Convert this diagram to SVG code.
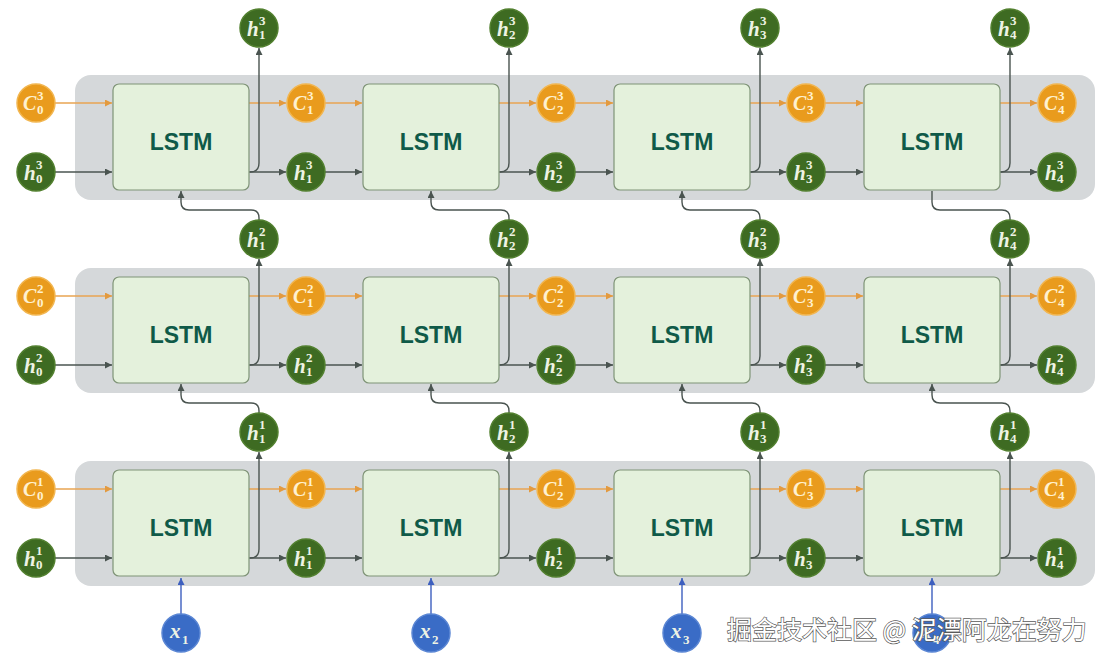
<svg xmlns="http://www.w3.org/2000/svg" width="1108" height="660" viewBox="0 0 1108 660">
<style>
.band{fill:#d5d8da}
.box{fill:#e4f1dc;stroke:#7f9477;stroke-width:1.2}
.lbl{font-family:"Liberation Sans",Arial,sans-serif;font-weight:bold;font-size:23px;fill:#0f5a48;text-anchor:middle}
.g{fill:#3e6b22;stroke:#52802f;stroke-width:1.5}
.o{fill:#e99b1d;stroke:#f2b650;stroke-width:1.5}
.b{fill:#3a6cc6;stroke:#5a86d4;stroke-width:1.5}
.m{font-family:"Liberation Serif","Times New Roman",serif;font-style:italic;font-weight:bold;font-size:21px;fill:#eef3e4}
.s{font-family:"Liberation Serif","Times New Roman",serif;font-weight:bold;font-size:13px;fill:#eef3e4}
.mo{font-family:"Liberation Serif","Times New Roman",serif;font-style:italic;font-weight:bold;font-size:20px;fill:#fff1cf}
.so{font-family:"Liberation Serif","Times New Roman",serif;font-weight:bold;font-size:13px;fill:#fff1cf}
.lh{fill:none;stroke:#4a5450;stroke-width:1.4}
.lc{fill:none;stroke:#e8a452;stroke-width:1.6}
.lb{fill:none;stroke:#3d5fbf;stroke-width:1.4}
.wm{font-family:"Noto Sans CJK SC","Noto Sans",sans-serif;font-size:25px;fill:#ffffff;stroke:#5a5a5a;stroke-width:1.4;paint-order:stroke}
</style>
<defs>
<marker id="ah" viewBox="0 0 8 8" refX="8" refY="4" markerWidth="7" markerHeight="7" markerUnits="userSpaceOnUse" orient="auto"><path d="M0,0 L8,4 L0,8 z" fill="#4a5450"/></marker>
<marker id="ac" viewBox="0 0 8 8" refX="8" refY="4" markerWidth="7" markerHeight="7" markerUnits="userSpaceOnUse" orient="auto"><path d="M0,0 L8,4 L0,8 z" fill="#e39a3f"/></marker>
<marker id="ab" viewBox="0 0 8 8" refX="8" refY="4" markerWidth="7" markerHeight="7" markerUnits="userSpaceOnUse" orient="auto"><path d="M0,0 L8,4 L0,8 z" fill="#3d5fbf"/></marker>
</defs>

<g id="bands">
<rect class="band" x="75" y="75" width="1020" height="125" rx="16"/>
<rect class="band" x="75" y="268" width="1020" height="125" rx="16"/>
<rect class="band" x="75" y="461" width="1020" height="125" rx="16"/>
</g>

<g id="connectors">
<path class="lc" d="M55,103 H112" marker-end="url(#ac)"/>
<path class="lh" d="M55,172 H112" marker-end="url(#ah)"/>
<path class="lc" d="M249,103 H286" marker-end="url(#ac)"/>
<path class="lh" d="M249,172 H286" marker-end="url(#ah)"/>
<path class="lh" d="M250,172 Q259,172 259,163 V48" marker-end="url(#ah)"/>
<path class="lc" d="M325,103 H362" marker-end="url(#ac)"/>
<path class="lh" d="M325,172 H362" marker-end="url(#ah)"/>
<path class="lc" d="M499,103 H536" marker-end="url(#ac)"/>
<path class="lh" d="M499,172 H536" marker-end="url(#ah)"/>
<path class="lh" d="M500,172 Q509,172 509,163 V48" marker-end="url(#ah)"/>
<path class="lc" d="M575,103 H613" marker-end="url(#ac)"/>
<path class="lh" d="M575,172 H613" marker-end="url(#ah)"/>
<path class="lc" d="M750,103 H786" marker-end="url(#ac)"/>
<path class="lh" d="M750,172 H786" marker-end="url(#ah)"/>
<path class="lh" d="M751,172 Q760,172 760,163 V48" marker-end="url(#ah)"/>
<path class="lc" d="M825,103 H863" marker-end="url(#ac)"/>
<path class="lh" d="M825,172 H863" marker-end="url(#ah)"/>
<path class="lc" d="M1000,103 H1037" marker-end="url(#ac)"/>
<path class="lh" d="M1000,172 H1037" marker-end="url(#ah)"/>
<path class="lh" d="M1001,172 Q1010,172 1010,163 V48" marker-end="url(#ah)"/>

<path class="lc" d="M55,296 H112" marker-end="url(#ac)"/>
<path class="lh" d="M55,365 H112" marker-end="url(#ah)"/>
<path class="lc" d="M249,296 H286" marker-end="url(#ac)"/>
<path class="lh" d="M249,365 H286" marker-end="url(#ah)"/>
<path class="lh" d="M250,365 Q259,365 259,356 V259" marker-end="url(#ah)"/>
<path class="lc" d="M325,296 H362" marker-end="url(#ac)"/>
<path class="lh" d="M325,365 H362" marker-end="url(#ah)"/>
<path class="lc" d="M499,296 H536" marker-end="url(#ac)"/>
<path class="lh" d="M499,365 H536" marker-end="url(#ah)"/>
<path class="lh" d="M500,365 Q509,365 509,356 V259" marker-end="url(#ah)"/>
<path class="lc" d="M575,296 H613" marker-end="url(#ac)"/>
<path class="lh" d="M575,365 H613" marker-end="url(#ah)"/>
<path class="lc" d="M750,296 H786" marker-end="url(#ac)"/>
<path class="lh" d="M750,365 H786" marker-end="url(#ah)"/>
<path class="lh" d="M751,365 Q760,365 760,356 V259" marker-end="url(#ah)"/>
<path class="lc" d="M825,296 H863" marker-end="url(#ac)"/>
<path class="lh" d="M825,365 H863" marker-end="url(#ah)"/>
<path class="lc" d="M1000,296 H1037" marker-end="url(#ac)"/>
<path class="lh" d="M1000,365 H1037" marker-end="url(#ah)"/>
<path class="lh" d="M1001,365 Q1010,365 1010,356 V259" marker-end="url(#ah)"/>

<path class="lc" d="M55,489 H112" marker-end="url(#ac)"/>
<path class="lh" d="M55,558 H112" marker-end="url(#ah)"/>
<path class="lc" d="M249,489 H286" marker-end="url(#ac)"/>
<path class="lh" d="M249,558 H286" marker-end="url(#ah)"/>
<path class="lh" d="M250,558 Q259,558 259,549 V452" marker-end="url(#ah)"/>
<path class="lc" d="M325,489 H362" marker-end="url(#ac)"/>
<path class="lh" d="M325,558 H362" marker-end="url(#ah)"/>
<path class="lc" d="M499,489 H536" marker-end="url(#ac)"/>
<path class="lh" d="M499,558 H536" marker-end="url(#ah)"/>
<path class="lh" d="M500,558 Q509,558 509,549 V452" marker-end="url(#ah)"/>
<path class="lc" d="M575,489 H613" marker-end="url(#ac)"/>
<path class="lh" d="M575,558 H613" marker-end="url(#ah)"/>
<path class="lc" d="M750,489 H786" marker-end="url(#ac)"/>
<path class="lh" d="M750,558 H786" marker-end="url(#ah)"/>
<path class="lh" d="M751,558 Q760,558 760,549 V452" marker-end="url(#ah)"/>
<path class="lc" d="M825,489 H863" marker-end="url(#ac)"/>
<path class="lh" d="M825,558 H863" marker-end="url(#ah)"/>
<path class="lc" d="M1000,489 H1037" marker-end="url(#ac)"/>
<path class="lh" d="M1000,558 H1037" marker-end="url(#ah)"/>
<path class="lh" d="M1001,558 Q1010,558 1010,549 V452" marker-end="url(#ah)"/>

<path class="lh" d="M259,220 V218 Q259,210 251,210 H189 Q181,210 181,202 V191" marker-end="url(#ah)"/>
<path class="lh" d="M509,220 V218 Q509,210 501,210 H439 Q431,210 431,202 V191" marker-end="url(#ah)"/>
<path class="lh" d="M760,220 V218 Q760,210 752,210 H690 Q682,210 682,202 V191" marker-end="url(#ah)"/>
<path class="lh" d="M932,191 V202 Q932,210 940,210 H1002 Q1010,210 1010,218 V220"/>
<path class="lh" d="M259,413 V411 Q259,403 251,403 H189 Q181,403 181,395 V384" marker-end="url(#ah)"/>
<path class="lh" d="M509,413 V411 Q509,403 501,403 H439 Q431,403 431,395 V384" marker-end="url(#ah)"/>
<path class="lh" d="M760,413 V411 Q760,403 752,403 H690 Q682,403 682,395 V384" marker-end="url(#ah)"/>
<path class="lh" d="M1010,413 V411 Q1010,403 1002,403 H940 Q932,403 932,395 V384" marker-end="url(#ah)"/>
<path class="lb" d="M181,614 V578" marker-end="url(#ab)"/>
<path class="lb" d="M431,614 V578" marker-end="url(#ab)"/>
<path class="lb" d="M682,614 V578" marker-end="url(#ab)"/>
<path class="lb" d="M932,614 V578" marker-end="url(#ab)"/>
</g>

<g id="lstm-3-1"><rect class="box" x="113" y="84" width="136" height="106" rx="6"/><text class="lbl" x="181" y="150">LSTM</text></g>
<g id="lstm-3-2"><rect class="box" x="363" y="84" width="136" height="106" rx="6"/><text class="lbl" x="431" y="150">LSTM</text></g>
<g id="lstm-3-3"><rect class="box" x="614" y="84" width="136" height="106" rx="6"/><text class="lbl" x="682" y="150">LSTM</text></g>
<g id="lstm-3-4"><rect class="box" x="864" y="84" width="136" height="106" rx="6"/><text class="lbl" x="932" y="150">LSTM</text></g>
<g id="lstm-2-1"><rect class="box" x="113" y="277" width="136" height="106" rx="6"/><text class="lbl" x="181" y="343">LSTM</text></g>
<g id="lstm-2-2"><rect class="box" x="363" y="277" width="136" height="106" rx="6"/><text class="lbl" x="431" y="343">LSTM</text></g>
<g id="lstm-2-3"><rect class="box" x="614" y="277" width="136" height="106" rx="6"/><text class="lbl" x="682" y="343">LSTM</text></g>
<g id="lstm-2-4"><rect class="box" x="864" y="277" width="136" height="106" rx="6"/><text class="lbl" x="932" y="343">LSTM</text></g>
<g id="lstm-1-1"><rect class="box" x="113" y="470" width="136" height="106" rx="6"/><text class="lbl" x="181" y="536">LSTM</text></g>
<g id="lstm-1-2"><rect class="box" x="363" y="470" width="136" height="106" rx="6"/><text class="lbl" x="431" y="536">LSTM</text></g>
<g id="lstm-1-3"><rect class="box" x="614" y="470" width="136" height="106" rx="6"/><text class="lbl" x="682" y="536">LSTM</text></g>
<g id="lstm-1-4"><rect class="box" x="864" y="470" width="136" height="106" rx="6"/><text class="lbl" x="932" y="536">LSTM</text></g>

<g id="c03"><circle class="o" cx="36" cy="103" r="19"/><text class="mo" x="23" y="110">C</text><text class="so" x="37" y="100">3</text><text class="so" x="37" y="114">0</text></g>
<g id="h03"><circle class="g" cx="36" cy="172" r="19"/><text class="m" x="24" y="180">h</text><text class="s" x="36" y="169">3</text><text class="s" x="36" y="183">0</text></g>
<g id="c13"><circle class="o" cx="306" cy="103" r="19"/><text class="mo" x="293" y="110">C</text><text class="so" x="307" y="100">3</text><text class="so" x="307" y="114">1</text></g>
<g id="h13"><circle class="g" cx="306" cy="172" r="19"/><text class="m" x="294" y="180">h</text><text class="s" x="306" y="169">3</text><text class="s" x="306" y="183">1</text></g>
<g id="c23"><circle class="o" cx="556" cy="103" r="19"/><text class="mo" x="543" y="110">C</text><text class="so" x="557" y="100">3</text><text class="so" x="557" y="114">2</text></g>
<g id="h23"><circle class="g" cx="556" cy="172" r="19"/><text class="m" x="544" y="180">h</text><text class="s" x="556" y="169">3</text><text class="s" x="556" y="183">2</text></g>
<g id="c33"><circle class="o" cx="806" cy="103" r="19"/><text class="mo" x="793" y="110">C</text><text class="so" x="807" y="100">3</text><text class="so" x="807" y="114">3</text></g>
<g id="h33"><circle class="g" cx="806" cy="172" r="19"/><text class="m" x="794" y="180">h</text><text class="s" x="806" y="169">3</text><text class="s" x="806" y="183">3</text></g>
<g id="c43"><circle class="o" cx="1057" cy="103" r="19"/><text class="mo" x="1044" y="110">C</text><text class="so" x="1058" y="100">3</text><text class="so" x="1058" y="114">4</text></g>
<g id="h43"><circle class="g" cx="1057" cy="172" r="19"/><text class="m" x="1045" y="180">h</text><text class="s" x="1057" y="169">3</text><text class="s" x="1057" y="183">4</text></g>
<g id="h13up"><circle class="g" cx="259" cy="28" r="19"/><text class="m" x="247" y="36">h</text><text class="s" x="259" y="25">3</text><text class="s" x="259" y="39">1</text></g>
<g id="h23up"><circle class="g" cx="509" cy="28" r="19"/><text class="m" x="497" y="36">h</text><text class="s" x="509" y="25">3</text><text class="s" x="509" y="39">2</text></g>
<g id="h33up"><circle class="g" cx="760" cy="28" r="19"/><text class="m" x="748" y="36">h</text><text class="s" x="760" y="25">3</text><text class="s" x="760" y="39">3</text></g>
<g id="h43up"><circle class="g" cx="1010" cy="28" r="19"/><text class="m" x="998" y="36">h</text><text class="s" x="1010" y="25">3</text><text class="s" x="1010" y="39">4</text></g>

<g id="c02"><circle class="o" cx="36" cy="296" r="19"/><text class="mo" x="23" y="303">C</text><text class="so" x="37" y="293">2</text><text class="so" x="37" y="307">0</text></g>
<g id="h02"><circle class="g" cx="36" cy="365" r="19"/><text class="m" x="24" y="373">h</text><text class="s" x="36" y="362">2</text><text class="s" x="36" y="376">0</text></g>
<g id="c12"><circle class="o" cx="306" cy="296" r="19"/><text class="mo" x="293" y="303">C</text><text class="so" x="307" y="293">2</text><text class="so" x="307" y="307">1</text></g>
<g id="h12"><circle class="g" cx="306" cy="365" r="19"/><text class="m" x="294" y="373">h</text><text class="s" x="306" y="362">2</text><text class="s" x="306" y="376">1</text></g>
<g id="c22"><circle class="o" cx="556" cy="296" r="19"/><text class="mo" x="543" y="303">C</text><text class="so" x="557" y="293">2</text><text class="so" x="557" y="307">2</text></g>
<g id="h22"><circle class="g" cx="556" cy="365" r="19"/><text class="m" x="544" y="373">h</text><text class="s" x="556" y="362">2</text><text class="s" x="556" y="376">2</text></g>
<g id="c32"><circle class="o" cx="806" cy="296" r="19"/><text class="mo" x="793" y="303">C</text><text class="so" x="807" y="293">2</text><text class="so" x="807" y="307">3</text></g>
<g id="h32"><circle class="g" cx="806" cy="365" r="19"/><text class="m" x="794" y="373">h</text><text class="s" x="806" y="362">2</text><text class="s" x="806" y="376">3</text></g>
<g id="c42"><circle class="o" cx="1057" cy="296" r="19"/><text class="mo" x="1044" y="303">C</text><text class="so" x="1058" y="293">2</text><text class="so" x="1058" y="307">4</text></g>
<g id="h42"><circle class="g" cx="1057" cy="365" r="19"/><text class="m" x="1045" y="373">h</text><text class="s" x="1057" y="362">2</text><text class="s" x="1057" y="376">4</text></g>
<g id="h12up"><circle class="g" cx="259" cy="239" r="19"/><text class="m" x="247" y="247">h</text><text class="s" x="259" y="236">2</text><text class="s" x="259" y="250">1</text></g>
<g id="h22up"><circle class="g" cx="509" cy="239" r="19"/><text class="m" x="497" y="247">h</text><text class="s" x="509" y="236">2</text><text class="s" x="509" y="250">2</text></g>
<g id="h32up"><circle class="g" cx="760" cy="239" r="19"/><text class="m" x="748" y="247">h</text><text class="s" x="760" y="236">2</text><text class="s" x="760" y="250">3</text></g>
<g id="h42up"><circle class="g" cx="1010" cy="239" r="19"/><text class="m" x="998" y="247">h</text><text class="s" x="1010" y="236">2</text><text class="s" x="1010" y="250">4</text></g>

<g id="c01"><circle class="o" cx="36" cy="489" r="19"/><text class="mo" x="23" y="496">C</text><text class="so" x="37" y="486">1</text><text class="so" x="37" y="500">0</text></g>
<g id="h01"><circle class="g" cx="36" cy="558" r="19"/><text class="m" x="24" y="566">h</text><text class="s" x="36" y="555">1</text><text class="s" x="36" y="569">0</text></g>
<g id="c11"><circle class="o" cx="306" cy="489" r="19"/><text class="mo" x="293" y="496">C</text><text class="so" x="307" y="486">1</text><text class="so" x="307" y="500">1</text></g>
<g id="h11"><circle class="g" cx="306" cy="558" r="19"/><text class="m" x="294" y="566">h</text><text class="s" x="306" y="555">1</text><text class="s" x="306" y="569">1</text></g>
<g id="c21"><circle class="o" cx="556" cy="489" r="19"/><text class="mo" x="543" y="496">C</text><text class="so" x="557" y="486">1</text><text class="so" x="557" y="500">2</text></g>
<g id="h21"><circle class="g" cx="556" cy="558" r="19"/><text class="m" x="544" y="566">h</text><text class="s" x="556" y="555">1</text><text class="s" x="556" y="569">2</text></g>
<g id="c31"><circle class="o" cx="806" cy="489" r="19"/><text class="mo" x="793" y="496">C</text><text class="so" x="807" y="486">1</text><text class="so" x="807" y="500">3</text></g>
<g id="h31"><circle class="g" cx="806" cy="558" r="19"/><text class="m" x="794" y="566">h</text><text class="s" x="806" y="555">1</text><text class="s" x="806" y="569">3</text></g>
<g id="c41"><circle class="o" cx="1057" cy="489" r="19"/><text class="mo" x="1044" y="496">C</text><text class="so" x="1058" y="486">1</text><text class="so" x="1058" y="500">4</text></g>
<g id="h41"><circle class="g" cx="1057" cy="558" r="19"/><text class="m" x="1045" y="566">h</text><text class="s" x="1057" y="555">1</text><text class="s" x="1057" y="569">4</text></g>
<g id="h11up"><circle class="g" cx="259" cy="432" r="19"/><text class="m" x="247" y="440">h</text><text class="s" x="259" y="429">1</text><text class="s" x="259" y="443">1</text></g>
<g id="h21up"><circle class="g" cx="509" cy="432" r="19"/><text class="m" x="497" y="440">h</text><text class="s" x="509" y="429">1</text><text class="s" x="509" y="443">2</text></g>
<g id="h31up"><circle class="g" cx="760" cy="432" r="19"/><text class="m" x="748" y="440">h</text><text class="s" x="760" y="429">1</text><text class="s" x="760" y="443">3</text></g>
<g id="h41up"><circle class="g" cx="1010" cy="432" r="19"/><text class="m" x="998" y="440">h</text><text class="s" x="1010" y="429">1</text><text class="s" x="1010" y="443">4</text></g>

<g id="x1"><circle class="b" cx="181" cy="633" r="19"/><text class="m" x="170" y="638">x</text><text class="s" x="182" y="644">1</text></g>
<g id="x2"><circle class="b" cx="431" cy="633" r="19"/><text class="m" x="420" y="638">x</text><text class="s" x="432" y="644">2</text></g>
<g id="x3"><circle class="b" cx="682" cy="633" r="19"/><text class="m" x="671" y="638">x</text><text class="s" x="683" y="644">3</text></g>
<g id="x4"><circle class="b" cx="932" cy="633" r="19"/><text class="m" x="921" y="638">x</text><text class="s" x="933" y="644">4</text></g>

<text class="wm" x="727" y="639">掘金技术社区 @ 泥漂阿龙在努力</text>
</svg>
